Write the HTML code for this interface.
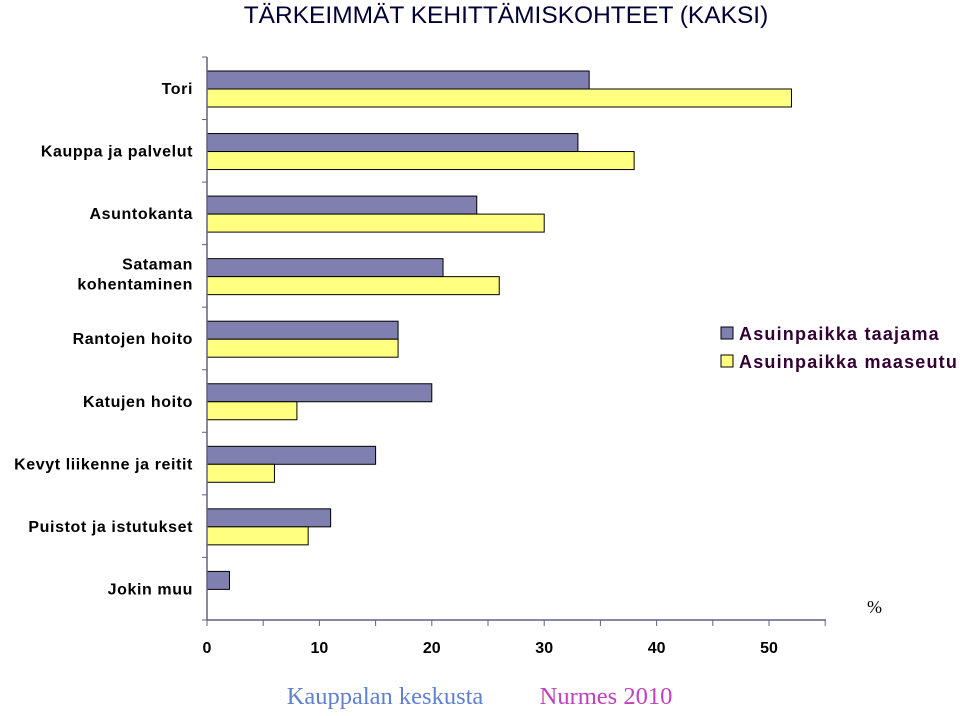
<!DOCTYPE html>
<html><head><meta charset="utf-8"><style>
body{margin:0;background:#fff;width:960px;height:711px;overflow:hidden}
text{font-family:"Liberation Sans",Arial,sans-serif}
</style></head><body>
<svg width="960" height="711">
<text x="506" y="23" text-anchor="middle" font-size="24.5" fill="#000033">TÄRKEIMMÄT KEHITTÄMISKOHTEET (KAKSI)</text>
<g id="plot"></g>
<g>
<rect x="721" y="327" width="12" height="12" fill="#8080b0" stroke="#000"/>
<text x="739" y="340" font-size="18" font-weight="bold" letter-spacing="1.2" fill="#330033">Asuinpaikka taajama</text>
<rect x="721" y="355" width="12" height="12" fill="#ffff80" stroke="#000"/>
<text x="739" y="368" font-size="18" font-weight="bold" letter-spacing="1.2" fill="#330033">Asuinpaikka maaseutu</text>
</g>
<text x="867" y="613" font-size="18" style="font-family:'Liberation Serif',serif">%</text>
<text x="385" y="704" text-anchor="middle" font-size="24.5" fill="#6080d0" style="font-family:'Liberation Serif',serif">Kauppalan keskusta</text>
<text x="606" y="704" text-anchor="middle" font-size="24.5" fill="#c040c0" style="font-family:'Liberation Serif',serif">Nurmes 2010</text>
</svg>
<script>
const categories=["Tori","Kauppa ja palvelut","Asuntokanta","Sataman|kohentaminen","Rantojen hoito","Katujen hoito","Kevyt liikenne ja reitit","Puistot ja istutukset","Jokin muu"];
const taajama=[34,33,24,21,17,20,15,11,2];
const maaseutu=[52,38,30,26,17,8,6,9,0];
const xTicks=[0,10,20,30,40,50];
const NS="http://www.w3.org/2000/svg";
const plotG=document.getElementById('plot');
const x0=207,pxPer=11.24,plotTop=57,band=62.55,axisEnd=826,plotBottom=plotTop+band*9;
const X=v=>x0+v*pxPer;
function mk(t,a){const e=document.createElementNS(NS,t);for(const k in a)e.setAttribute(k,a[k]);plotG.appendChild(e);return e;}
categories.forEach((c,i)=>{
 const by=plotTop+band*i;
 const r1=mk('rect',{x:x0,y:by+14,width:X(taajama[i])-x0,height:18,fill:'#8080b0',stroke:'#000'});
 
 
 if(maaseutu[i]>0){const r2=mk('rect',{x:x0,y:by+32,width:X(maaseutu[i])-x0,height:18,fill:'#ffff80',stroke:'#000'});
 
 }
 const parts=c.split('|');
 parts.forEach((p,j)=>{const t=mk('text',{x:193,y:by+37+(parts.length>1?(j-0.5)*20-2:0),'text-anchor':'end','font-size':16,'font-weight':'bold','letter-spacing':0.6});t.textContent=p;
 
 });
});
for(let i=0;i<=9;i++){mk('line',{x1:202,x2:x0,y1:plotTop+band*i,y2:plotTop+band*i,stroke:'#606080'});}
const ya=mk('line',{x1:x0,x2:x0,y1:plotTop,y2:plotBottom,stroke:'#606080','stroke-width':1.5});


const xa=mk('line',{x1:x0,x2:axisEnd,y1:plotBottom,y2:plotBottom,stroke:'#606080','stroke-width':1.5});


for(let v=0;v<=55;v+=5){mk('line',{x1:X(v),x2:X(v),y1:plotBottom,y2:plotBottom+6,stroke:'#606080'});}
xTicks.forEach(v=>{const t=mk('text',{x:X(v),y:plotBottom+33,'text-anchor':'middle','font-size':16,'font-weight':'bold'});t.textContent=v;
 
 });
</script>
</body></html>
